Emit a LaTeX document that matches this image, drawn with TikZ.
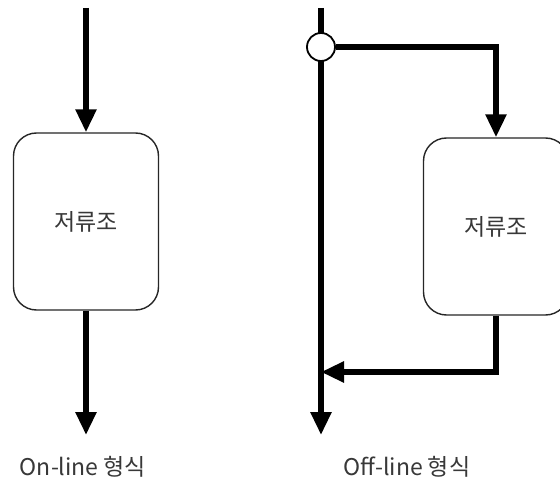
\documentclass[tikz,border=0pt]{standalone}
\usepackage{fontspec}
\setmainfont{Noto Sans CJK KR}
\usetikzlibrary{arrows.meta}
\begin{document}
\begin{tikzpicture}[x=1pt,y=-1pt,
  tank/.style={draw=black!85, line width=1.4pt, rounded corners=23pt, fill=white,
    minimum width=145pt, minimum height=177pt, inner sep=0pt,
    font=\fontsize{23}{26}\selectfont, text=black!78},
  flow/.style={line width=5.5pt, -{Triangle[length=23pt,width=20pt]}},
  lbl/.style={font=\fontsize{23}{26}\selectfont, text=black!78, inner sep=0pt},
  junc/.style={circle, draw=black, line width=1.8pt, fill=white, minimum size=28pt, inner sep=0pt}]
\useasboundingbox (0,0) rectangle (560,481);
\clip (0,0) rectangle (560,481);
% On-line
\coordinate (ltop) at (86,8);
\coordinate (lbot) at (86,435);
\node[tank] (lt) at (86,221.5) {저류조};
\draw[flow] (ltop) -- (lt.north);
\draw[flow] (lt.south) -- (lbot);
\node[lbl] (lL) at (83,467) {On-line 형식};
% Off-line
\coordinate (rtop) at (321,8);
\coordinate (rbot) at (321,435);
\coordinate (rjoin) at (321,372);
\node[tank] (rt) at (496,226.5) {저류조};
\draw[flow] (rtop) -- (rbot);
\node[junc] (jn) at (321,47) {};
\draw[flow] (jn.east) -| (rt.north);
\draw[flow] (rt.south) |- (rjoin);
\node[lbl] (rL) at (407,467) {Off-line 형식};
\end{tikzpicture}
\end{document}
